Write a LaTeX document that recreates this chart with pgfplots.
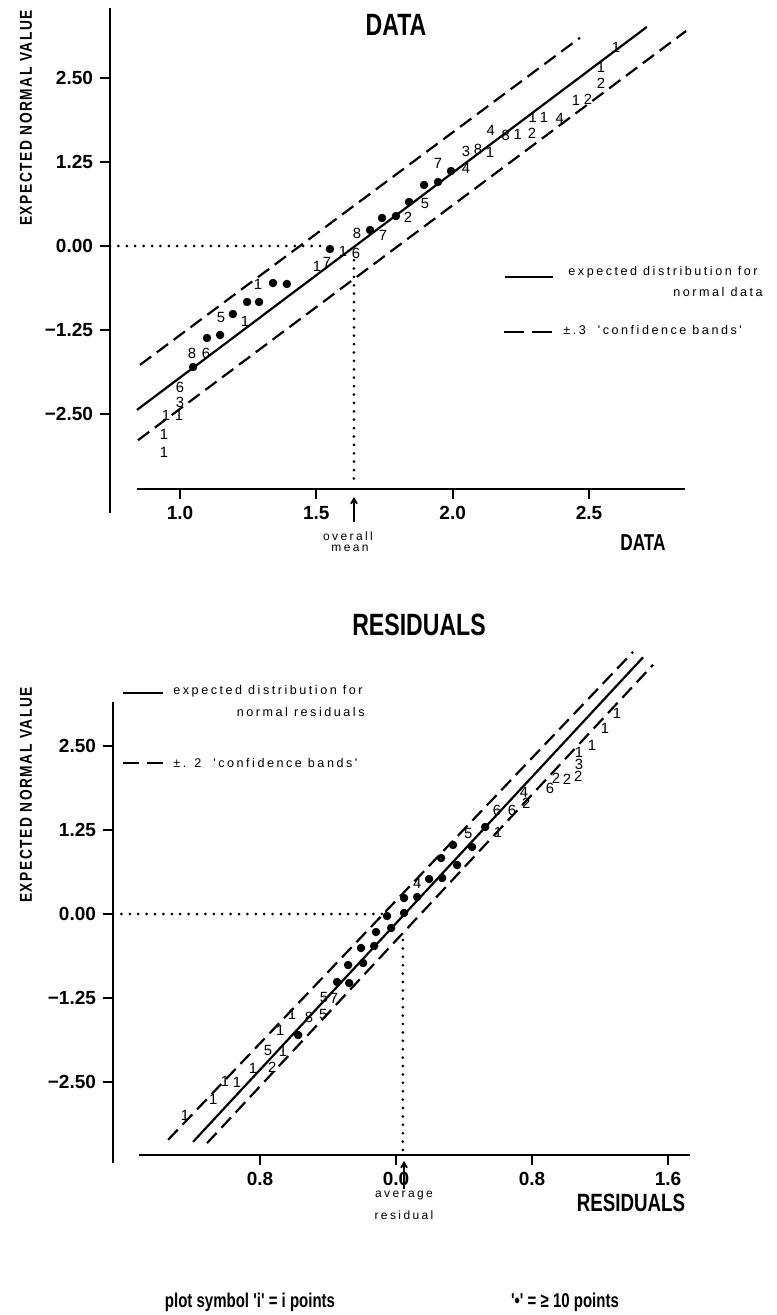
\documentclass[border=0pt]{standalone}
\usepackage{fontspec}
\usepackage{pgfplots}
\usepackage{pgfplotstable}
\pgfplotsset{compat=1.18}
\usetikzlibrary{arrows.meta}
\setmainfont{Liberation Sans}
\newfontfamily\condb{Liberation Sans Bold}[FakeStretch=0.75]
\newfontfamily\tickf{Liberation Sans Bold}
\newfontfamily\ylabf{Liberation Sans Bold}[FakeStretch=0.8, LetterSpace=9]
\newfontfamily\spaced{Liberation Sans}[LetterSpace=20]
\newfontfamily\libsans{Liberation Sans}

\pgfplotstableread{
x y s
0.941 -3.065 1
0.941 -2.798 1
0.949 -2.515 1
0.996 -2.515 1
1.000 -2.321 3
1.000 -2.098 6
1.044 -1.592 8
1.095 -1.592 6
1.150 -1.057 5
1.238 -1.116 1
1.286 -0.565 1
1.502 -0.298 1
1.539 -0.238 7
1.598 -0.074 1
1.645 -0.104 6
1.649 0.193 8
1.744 0.164 7
1.836 0.432 2
1.898 0.640 5
1.946 1.235 7
2.049 1.161 4
2.049 1.414 3
2.093 1.443 8
2.137 1.399 1
2.140 1.726 4
2.195 1.652 8
2.239 1.667 1
2.291 1.682 2
2.294 1.920 1
2.335 1.920 1
2.393 1.905 4
2.452 2.173 1
2.496 2.188 2
2.544 2.426 2
2.544 2.664 1
2.599 2.961 1
}\topnum

\pgfplotstableread{
x y
1.048 -1.801
1.099 -1.369
1.147 -1.324
1.194 -1.012
1.246 -0.833
1.290 -0.833
1.341 -0.551
1.392 -0.565
1.550 -0.045
1.697 0.238
1.741 0.417
1.792 0.446
1.840 0.655
1.895 0.908
1.946 0.952
1.994 1.116
}\topdot

\pgfplotstableread{
x y s
-1.241 -2.991 1
-1.076 -2.753 1
-1.006 -2.485 1
-0.935 -2.500 1
-0.841 -2.292 1
-0.729 -2.277 2
-0.753 -2.024 5
-0.665 -2.039 1
-0.682 -1.726 1
-0.612 -1.488 1
-0.512 -1.533 8
-0.429 -1.488 5
-0.424 -1.235 5
-0.365 -1.250 7
0.124 0.461 4
0.424 1.205 5
0.600 1.220 1
0.594 1.548 6
0.682 1.548 6
0.753 1.815 4
0.765 1.652 2
0.906 1.875 6
0.941 2.024 2
1.006 2.009 2
1.071 2.054 2
1.076 2.232 3
1.076 2.411 1
1.153 2.515 1
1.229 2.768 1
1.300 2.991 1
}\botnum

\pgfplotstableread{
x y
-0.576 -1.801
-0.347 -1.012
-0.276 -1.027
-0.282 -0.759
-0.194 -0.729
-0.206 -0.506
-0.129 -0.476
-0.118 -0.268
-0.029 -0.208
-0.053 -0.030
0.047 0.015
0.047 0.238
0.124 0.253
0.194 0.521
0.271 0.536
0.265 0.833
0.359 0.729
0.335 1.027
0.447 0.997
0.524 1.295
}\botdot

\pgfplotsset{
  qq/.style={
    scale only axis, clip=false,
    axis x line*=bottom, axis y line*=left,
    axis line style={draw=none},
    tick align=outside, major tick length=5pt,
    tick style={draw=black, line width=1pt},
    ticklabel style={font=\tickf\fontsize{9.5}{10}\selectfont},
    ytick={-2.5,-1.25,0,1.25,2.5},
    yticklabels={−2.50,−1.25,0.00,1.25,2.50},
  },
  numstyle/.style={only marks, mark=*, mark size=0.01pt,
    scatter/use mapped color={draw=none, fill=none},
    mark options={draw=none,fill=none},
    point meta=explicit symbolic, nodes near coords, nodes near coords align=center,
    every node near coord/.style={font=\libsans\fontsize{7.4}{8}\selectfont, inner sep=0pt, text=black}},
  dotstyle/.style={only marks, mark=*, mark size=1.9pt, black},
  solidl/.style={black, line width=1.1pt, no marks},
  dashl/.style={black, line width=1.1pt, no marks, dash pattern=on 7pt off 3.5pt},
  dotl/.style={black, line width=1.5pt, no marks, dash pattern=on 0pt off 4.2pt, line cap=round},
}

\begin{document}
\begin{tikzpicture}
\useasboundingbox (0,0) rectangle (388pt,657.5pt);

% ---------------- top axis -----------------
\begin{axis}[qq, at={(55pt,413pt)}, anchor=south west,
  width=287.5pt, height=240.5pt,
  xmin=0.7433, xmax=2.852, ymin=-3.616, ymax=3.542,
  xtick={1.0,1.5,2.0,2.5}, xticklabels={1.0,1.5,2.0,2.5}]
  \draw[line width=1.3pt] (axis cs:0.842,-3.616) -- (axis cs:2.852,-3.616);
  \draw[line width=1.3pt] (axis cs:0.7433,3.542) -- (axis cs:0.7433,-3.97);
  \addplot[dotl] coordinates {(0.7433,0) (1.54,0)};
  \addplot[dotl] coordinates {(1.638,-0.21) (1.638,-3.58)};
  \addplot[solidl] coordinates {(0.842,-2.44) (2.712,3.26)};
  \addplot[dashl] coordinates {(0.853,-1.77) (2.467,3.10)};
  \addplot[dashl] coordinates {(0.846,-2.89) (2.856,3.20)};
  \addplot[dotstyle] table {\topdot};
  \addplot[numstyle] table[meta=s] {\topnum};
\end{axis}

% ---------------- bottom axis -----------------
\begin{axis}[qq, at={(56.5pt,80pt)}, anchor=south west,
  width=288.5pt, height=226.5pt,
  xmin=-1.665, xmax=1.729, ymin=-3.586, ymax=3.155,
  xtick={-0.8,0,0.8,1.6}, xticklabels={0.8,0.0,0.8,1.6}]
  \draw[line width=1.3pt] (axis cs:-1.51,-3.586) -- (axis cs:1.729,-3.586);
  \draw[line width=1.3pt] (axis cs:-1.665,3.155) -- (axis cs:-1.665,-3.705);
  \addplot[dotl] coordinates {(-1.665,0) (-0.076,0)};
  \addplot[dotl] coordinates {(0.04,-0.387) (0.04,-3.55)};
  \addplot[solidl] coordinates {(-1.194,-3.39) (1.453,3.82)};
  \addplot[dashl] coordinates {(-1.341,-3.36) (1.394,3.90)};
  \addplot[dashl] coordinates {(-1.112,-3.41) (1.512,3.71)};
  \addplot[dotstyle] table {\botdot};
  \addplot[numstyle] table[meta=s] {\botnum};
\end{axis}

% ---------------- texts -----------------
\node[font=\condb\fontsize{15.4}{16}\selectfont] at (198pt,645pt) {DATA};
\node[font=\condb\fontsize{15.4}{16}\selectfont] at (209.5pt,345pt) {RESIDUALS};
\node[rotate=90, font=\ylabf\fontsize{8.6}{9}\selectfont] at (13pt,598.5pt) {EXPECTED NORMAL VALUE};
\node[rotate=90, font=\ylabf\fontsize{8.6}{9}\selectfont] at (13pt,260pt) {EXPECTED NORMAL VALUE};
\node[font=\condb\fontsize{11.5}{12}\selectfont] at (321.5pt,386pt) {DATA};
\node[font=\condb\fontsize{12.5}{13}\selectfont] at (315.5pt,56pt) {RESIDUALS};

% top legend
\draw[line width=1.1pt] (252.5pt,519pt) -- (276.5pt,519pt);
\node[anchor=west, inner sep=0pt, font=\spaced\fontsize{6.3}{7}\selectfont] at (284pt,521.5pt) {expected distribution for};
\node[anchor=east, inner sep=0pt, font=\spaced\fontsize{6.3}{7}\selectfont] at (381.5pt,511.5pt) {normal data};
\draw[line width=1.1pt, dash pattern=on 10pt off 4pt] (252pt,491.5pt) -- (276.5pt,491.5pt);
\node[anchor=west, inner sep=0pt, font=\spaced\fontsize{6.3}{7}\selectfont] at (281.5pt,492.5pt) {±.3\ \ 'confidence bands'};

% bottom legend
\draw[line width=1.1pt] (61.5pt,311pt) -- (81.5pt,311pt);
\node[anchor=west, inner sep=0pt, font=\spaced\fontsize{6.3}{7}\selectfont] at (86.5pt,312pt) {expected distribution for};
\node[anchor=east, inner sep=0pt, font=\spaced\fontsize{6.3}{7}\selectfont] at (182.5pt,301.5pt) {normal residuals};
\draw[line width=1.1pt, dash pattern=on 8pt off 4pt] (61.5pt,276pt) -- (81.5pt,276pt);
\node[anchor=west, inner sep=0pt, font=\spaced\fontsize{6.3}{7}\selectfont] at (86.5pt,276pt) {±. 2\ \ 'confidence bands'};

% mean annotations
\draw[line width=0.9pt, -{Straight Barb[length=2.5pt,width=3pt]}] (177pt,396.5pt) -- (177pt,409pt);
\node[inner sep=0pt, font=\spaced\fontsize{6}{7}\selectfont] at (174pt,389.5pt) {overall};
\node[inner sep=0pt, font=\spaced\fontsize{6}{7}\selectfont] at (175pt,383.5pt) {mean};
\draw[line width=0.9pt, -{Straight Barb[length=2.5pt,width=3pt]}] (202pt,63pt) -- (202pt,77pt);
\node[inner sep=0pt, font=\spaced\fontsize{6}{7}\selectfont] at (202pt,59.5pt) {average};
\node[inner sep=0pt, font=\spaced\fontsize{6}{7}\selectfont] at (202pt,50pt) {residual};

% footer
\node[font=\condb\fontsize{10}{12}\selectfont] at (125pt,6.5pt) {plot symbol 'i' = i points};
\node[font=\condb\fontsize{10}{12}\selectfont] at (282.5pt,6.5pt) {'•' = ≥ 10 points};
\end{tikzpicture}
\end{document}
